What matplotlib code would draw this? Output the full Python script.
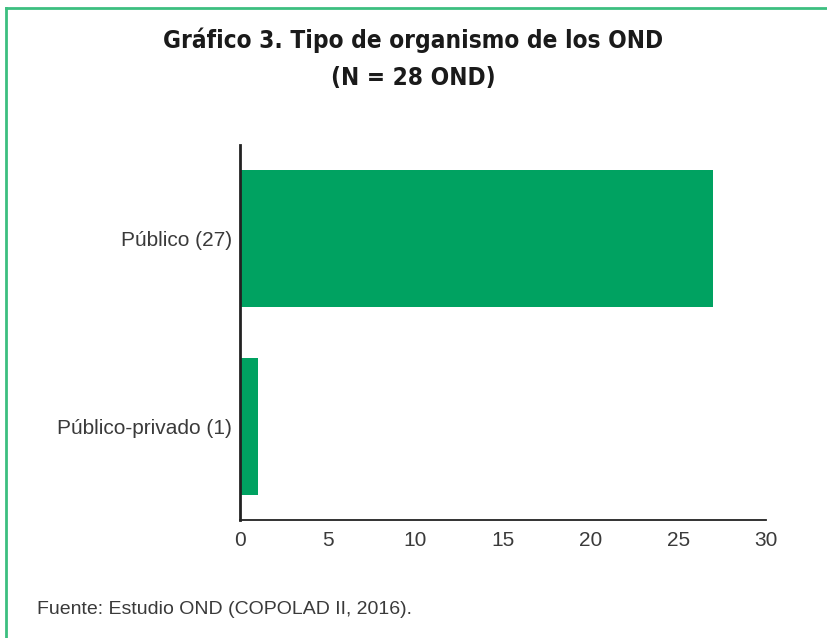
import matplotlib.pyplot as plt
from matplotlib.lines import Line2D

categorias = ['Público-privado (1)', 'Público (27)']
valores = [1, 27]
xticks = [0, 5, 10, 15, 20, 25, 30]

plt.rcParams['font.family'] = ['Liberation Sans', 'DejaVu Sans']

fig = plt.figure(figsize=(8.27, 6.38), dpi=100)
ax = fig.add_axes([0.2902, 0.185, 0.636, 0.5877])

ax.barh(range(len(categorias)), valores, height=0.73, color='#00a261')
ax.set_yticks(range(len(categorias)))
ax.set_yticklabels(categorias, fontsize=15, color='#3a3a3a')
ax.set_xticks(xticks)
ax.set_xticklabels([str(t) for t in xticks], fontsize=15, color='#3a3a3a')
ax.set_xlim(0, 30)
ax.set_ylim(-0.5, 1.5)
ax.tick_params(axis='y', length=0, pad=6)
ax.tick_params(axis='x', length=0, pad=8)
for s in ['top', 'right']:
    ax.spines[s].set_visible(False)
ax.spines['left'].set_linewidth(2)
ax.spines['bottom'].set_linewidth(1.3)
ax.spines['left'].set_color('#222222')
ax.spines['bottom'].set_color('#222222')

tfont = ['DejaVu Sans']
fig.text(0.5, 0.937, 'Gráfico 3. Tipo de organismo de los OND', ha='center', va='center',
         fontsize=17.5, fontweight='bold', fontstretch='condensed', family=tfont, color='#1a1a1a')
fig.text(0.5, 0.878, '(N = 28 OND)', ha='center', va='center',
         fontsize=17.5, fontweight='bold', fontstretch='condensed', family=tfont, color='#1a1a1a')

fig.text(37 / 827, 1 - 609 / 638, 'Fuente: Estudio OND (COPOLAD II, 2016).', ha='left', va='center',
         fontsize=14, color='#3a3a3a')

# marco verde
fig.add_artist(Line2D([6 / 827, 1], [1 - 8 / 638, 1 - 8 / 638], color='#3cbf80', lw=2))
fig.add_artist(Line2D([6 / 827, 6 / 827], [0, 1 - 8 / 638], color='#3cbf80', lw=2))

fig.savefig('out.png', dpi=100)
plt.close(fig)
